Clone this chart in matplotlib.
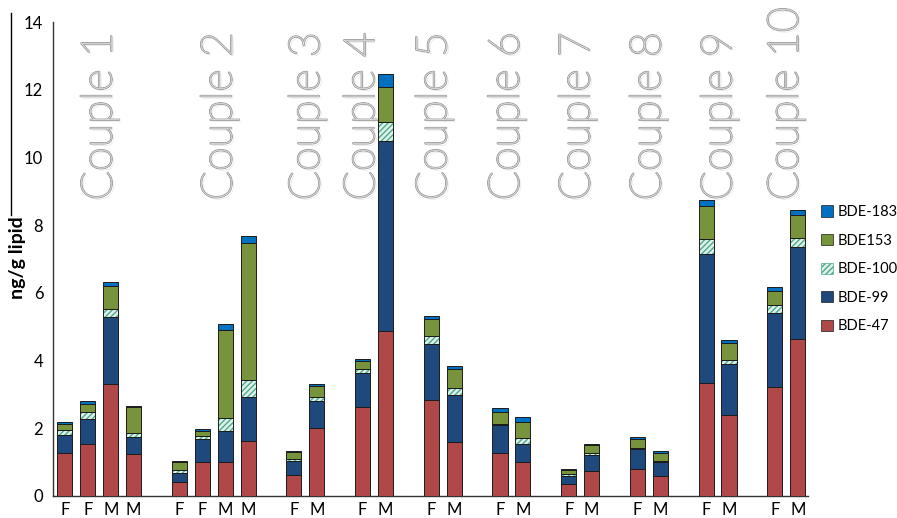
import matplotlib
matplotlib.use("Agg")
import matplotlib.pyplot as plt
import matplotlib.patheffects as pe
import matplotlib.patches as mpatches
from matplotlib.lines import Line2D
import numpy as np

# ---- data ----
couples = ["Couple 1", "Couple 2", "Couple 3", "Couple 4", "Couple 5",
           "Couple 6", "Couple 7", "Couple 8", "Couple 9", "Couple 10"]
sex_labels = ["F", "F", "M", "M",
              "F", "F", "M", "M",
              "F", "M", "F", "M", "F", "M", "F", "M",
              "F", "M", "F", "M", "F", "M", "F", "M"]
bde47  = [1.26, 1.55, 3.32, 1.23, 0.42, 1.01, 1.01, 1.63,
          0.62, 2.00, 2.62, 4.87, 2.85, 1.60, 1.26, 1.01,
          0.34, 0.75, 0.79, 0.60, 3.34, 2.39, 3.21, 4.65]
bde99  = [0.54, 0.72, 1.97, 0.52, 0.27, 0.66, 0.91, 1.28,
          0.42, 0.80, 1.00, 5.61, 1.65, 1.38, 0.83, 0.52,
          0.26, 0.46, 0.59, 0.40, 3.82, 1.50, 2.20, 2.70]
bde100 = [0.15, 0.20, 0.23, 0.12, 0.08, 0.10, 0.37, 0.53,
          0.05, 0.11, 0.12, 0.56, 0.22, 0.20, 0.05, 0.19,
          0.04, 0.07, 0.04, 0.04, 0.44, 0.14, 0.24, 0.28]
bde153 = [0.19, 0.26, 0.67, 0.75, 0.24, 0.16, 2.61, 4.04,
          0.20, 0.33, 0.25, 1.05, 0.52, 0.56, 0.33, 0.47,
          0.13, 0.22, 0.25, 0.24, 0.96, 0.50, 0.41, 0.68]
bde183 = [0.05, 0.07, 0.13, 0.03, 0.02, 0.04, 0.17, 0.19,
          0.05, 0.06, 0.07, 0.36, 0.07, 0.10, 0.13, 0.15,
          0.03, 0.05, 0.06, 0.06, 0.19, 0.07, 0.10, 0.13]
series_names = ["BDE-47", "BDE-99", "BDE-100", "BDE153", "BDE-183"]

plt.rcParams["font.family"] = ["Lato", "DejaVu Sans"]

# ---- layout (slot positions: couples 1-2 have four samples, others two) ----
group_sizes = [4, 4, 2, 2, 2, 2, 2, 2, 2, 2]
xpos = []
slot = 0
for g in group_sizes:
    xpos.extend(range(slot, slot + g))
    slot += g + 1
xpos = np.array(xpos, dtype=float)
label_pos = [1.53, 6.77, 10.6, 13.0, 16.15, 19.3, 22.4, 25.5, 28.6, 31.5]

colors = {"BDE-47": "#B0484A", "BDE-99": "#1F497D", "BDE-100": "#DDF1EA",
          "BDE153": "#77933C", "BDE-183": "#0070C0"}

fig = plt.figure(figsize=(8.97, 5.18), dpi=100)
ax = fig.add_axes([53/897, 22/518, (808-53)/897, (496-22)/518])

width = 0.66
bottom = np.zeros(len(xpos))
values = [bde47, bde99, bde100, bde153, bde183]
edge = "#1c1c1c"
for name, vals in zip(series_names, values):
    vals = np.array(vals)
    if name == "BDE-100":
        ax.bar(xpos, vals, width, bottom=bottom, color=colors[name],
               edgecolor="#4FA88C", hatch="//////", linewidth=0, zorder=3)
        ax.bar(xpos, vals, width, bottom=bottom, fill=False,
               edgecolor=edge, linewidth=0.7, zorder=4)
    else:
        ax.bar(xpos, vals, width, bottom=bottom, color=colors[name],
               edgecolor=edge, linewidth=0.7, zorder=3)
    bottom += vals

ax.set_xlim(-0.52, 32.45)
ax.set_ylim(0, 14)
ax.set_yticks(np.arange(0, 15, 2))
ax.set_xticks(xpos)
ax.set_xticklabels(sex_labels)
ax.tick_params(axis="both", length=0, labelsize=12)
ax.tick_params(axis="y", pad=7)
ax.tick_params(axis="x", pad=4)
for s in ["top", "right"]:
    ax.spines[s].set_visible(False)
ax.spines["left"].set_color("#333333")
ax.spines["bottom"].set_color("#333333")
ax.spines["left"].set_linewidth(1.0)
ax.spines["bottom"].set_linewidth(1.0)

for lab, xp in zip(couples, label_pos):
    ax.text(xp, 8.73, lab, rotation=90, ha="center", va="bottom",
            fontsize=31, fontweight="light",
            color="#f7f7f7", zorder=2,
            path_effects=[pe.withSimplePatchShadow(offset=(1.5, -1.5), shadow_rgbFace="#c8c8c8", alpha=0.6),
                          pe.Stroke(linewidth=1.4, foreground="#a8a8a8"),
                          pe.Normal()])

fig.text(18/897, 1 - 258/518, "ng/g lipid", rotation=90, ha="center", va="center",
         fontsize=14, fontweight="bold")

# stray vertical line at left edge of original figure
fig.add_artist(Line2D([11/897, 11/897], [1 - 13/518, 1 - 215/518],
                      color="black", linewidth=1.0))

handles = []
for name in reversed(series_names):
    if name == "BDE-100":
        h = mpatches.Patch(facecolor=colors[name], edgecolor="#4FA88C", hatch="//////", linewidth=0.5)
    else:
        h = mpatches.Patch(facecolor=colors[name], edgecolor=edge, linewidth=0.5)
    handles.append(h)
fig.legend(handles, list(reversed(series_names)), loc="upper left",
           bbox_to_anchor=(821/897, 1 - 205/518), frameon=False, fontsize=10.5,
           handlelength=0.8, handleheight=0.8, handletextpad=0.35,
           labelspacing=1.0, borderpad=0, borderaxespad=0)

fig.savefig("out.png", dpi=100)
